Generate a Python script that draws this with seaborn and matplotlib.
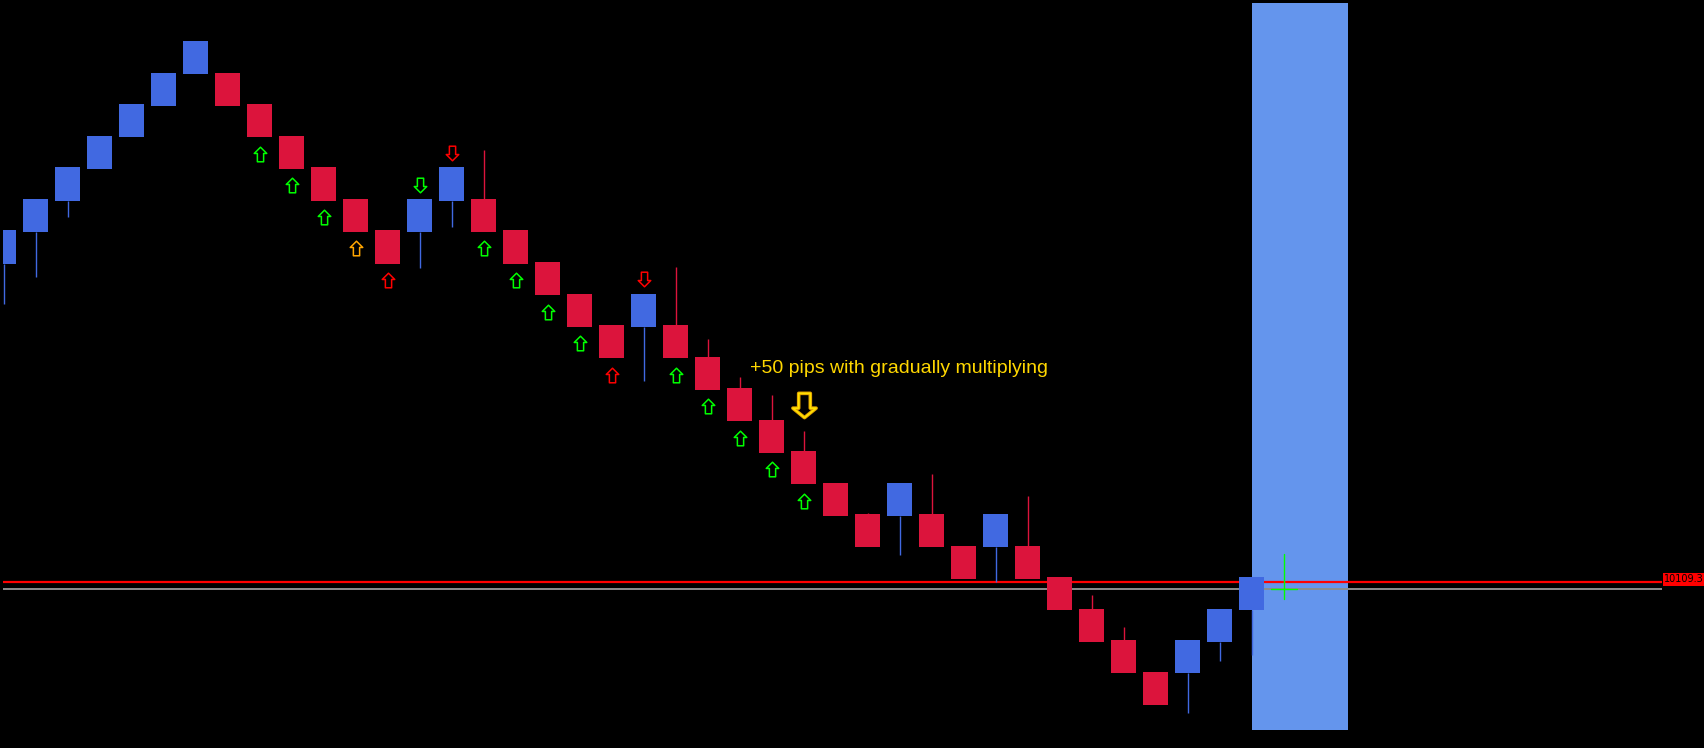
import numpy as np
import pandas as pd
import matplotlib
matplotlib.use("Agg")
import matplotlib.pyplot as plt
from matplotlib.path import Path
import seaborn as sns

# ---------------- data ----------------
brick_levels = [14, 15, 16, 17, 18, 19, 20, 19, 18, 17, 16, 15, 14, 15, 16, 15, 14, 13, 12, 11,
                12, 11, 10, 9, 8, 7, 6, 5, 6, 5, 4, 5, 4, 3, 2, 1, 0, 1, 2, 3]
up_bricks = [1, 2, 3, 4, 5, 6, 7, 14, 15, 21, 29, 32, 38, 39, 40]

wick_bricks = [1, 2, 3, 14, 15, 16, 21, 22, 23, 24, 25, 26, 28, 29, 30, 32, 33, 35, 36, 38, 39, 40]
wick_ends = [12.72, 13.57, 15.48, 13.86, 15.16, 17.60, 10.29, 13.90, 11.61, 10.40, 9.83, 8.69,
             6.09, 4.76, 7.33, 3.90, 6.63, 3.49, 2.47, -0.25, 1.40, 1.59]

up_arrow_bricks = [9, 10, 11, 12, 13, 16, 17, 18, 19, 20, 22, 23, 24, 25, 26]
up_arrow_colors = ["lime", "lime", "lime", "orange", "red", "lime", "lime", "lime", "lime", "red",
                   "lime", "lime", "lime", "lime", "lime"]
down_arrow_bricks = [14, 15, 21]
down_arrow_colors = ["lime", "red", "red"]

signal_brick = 26
signal_level = 9.5
note_text = "+50 pips with gradually multiplying"
note_pos = (24.33, 10.53)

price_line = 3.90
bid_line = 3.68
price_label = "10109.3"
zone_start, zone_end = 40, 43
cross_x, cross_y = 41.0, 3.68

# ---------------- figure ----------------
sns.set_theme(style="dark")
plt.rcParams["font.family"] = ["Liberation Sans", "DejaVu Sans"]

W, H = 1704, 748
fig = plt.figure(figsize=(W / 100, H / 100), dpi=100, facecolor="black")
ax = fig.add_axes([3 / W, (H - 730) / H, (1662 - 3) / W, (730 - 3) / H])
ax.set_facecolor("black")
for s in ax.spines.values():
    s.set_visible(False)
ax.set_xticks([])
ax.set_yticks([])
ax.grid(False)

# x_full = 32*i - 28.5 ; y_full = 705 - 31.53*p
ax.set_xlim((3 + 28.5) / 32, (1662 + 28.5) / 32)
ax.set_ylim((705 - 730) / 31.53, (705 - 3) / 31.53)

df = pd.DataFrame({"idx": np.arange(1, len(brick_levels) + 1), "level": brick_levels})
df["up"] = df["idx"].isin(up_bricks)
df["color"] = np.where(df["up"], "#4169E1", "#DC143C")

# zone
ax.axvspan(zone_start, zone_end, color="#6495ED", zorder=1, lw=0)

# horizontal lines
ax.axhline(price_line, color="#FF0000", lw=1.6, zorder=2)
ax.axhline(bid_line, color="#8C8C8C", lw=1.4, zorder=2)

# wicks
lvl = dict(zip(df["idx"], df["level"]))
col = dict(zip(df["idx"], df["color"]))
for b, e in zip(wick_bricks, wick_ends):
    start = lvl[b] if e < lvl[b] else lvl[b] + 1
    ax.plot([b, b], [start, e], color=col[b], lw=1.0, zorder=3, solid_capstyle="butt")

# bricks
ax.bar(df["idx"], 1.05, bottom=df["level"], width=0.8, color=df["color"], zorder=4, lw=0)

# arrow markers
up_path = Path([(0, 7), (6, 1), (3, 1), (3, -7), (-3, -7), (-3, 1), (-6, 1), (0, 7)], closed=True)
down_path = Path([(0, -7), (6, -1), (3, -1), (3, 7), (-3, 7), (-3, -1), (-6, -1), (0, -7)], closed=True)
for b, c in zip(up_arrow_bricks, up_arrow_colors):
    ax.plot(b, lvl[b] - 0.52, marker=up_path, markersize=10.5, markerfacecolor="none",
            markeredgecolor=c, markeredgewidth=1.1, zorder=5, linestyle="none")
for b, c in zip(down_arrow_bricks, down_arrow_colors):
    ax.plot(b, lvl[b] + 1.5, marker=down_path, markersize=10.5, markerfacecolor="none",
            markeredgecolor=c, markeredgewidth=1.1, zorder=5, linestyle="none")

big_path = Path([(0, -11.5), (11, -2.5), (5.5, -2.5), (5.5, 11.5), (-5.5, 11.5), (-5.5, -2.5),
                 (-11, -2.5), (0, -11.5)], closed=True)
ax.plot(signal_brick, signal_level, marker=big_path, markersize=17.5, markerfacecolor="none",
        markeredgecolor="#E0A000", markeredgewidth=2.6, zorder=5, linestyle="none")
ax.plot(signal_brick, signal_level, marker=big_path, markersize=17.5, markerfacecolor="none",
        markeredgecolor="#FFE000", markeredgewidth=1.2, zorder=5, linestyle="none")

ax.text(note_pos[0], note_pos[1], note_text, color="#FFD700", fontsize=14,
        ha="left", va="baseline", zorder=6)

# crosshair
ax.plot([cross_x, cross_x], [cross_y - 0.32, cross_y + 1.11], color="#00FF00", lw=1.0, zorder=6)
ax.plot([cross_x - 0.38, cross_x + 0.41], [cross_y, cross_y], color="#00FF00", lw=1.0, zorder=6)

# price label on right
yfig = (H - 579.5) / H
fig.text(1664 / W, yfig, price_label, color="black", fontsize=7, ha="left", va="center",
         family=["DejaVu Sans"],
         bbox=dict(boxstyle="square,pad=0.15", fc="#FF0000", ec="none"))

fig.savefig("out.png", dpi=100, facecolor="black")
